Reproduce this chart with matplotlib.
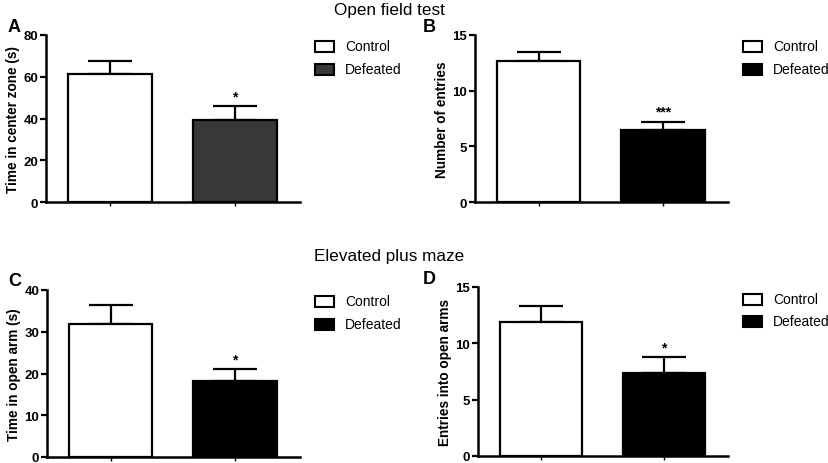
import numpy as np
import matplotlib.pyplot as plt
from matplotlib.patches import Rectangle

plt.rcParams['font.family'] = ['Liberation Sans', 'DejaVu Sans']

groups = ["Control", "Defeated"]

# panel A: time in center zone (s)
center_time = [61.5, 39.5]
center_time_sem = [6.2, 6.3]
# panel B: number of entries
entries = [12.7, 6.45]
entries_sem = [0.8, 0.75]
# panel C: time in open arm (s)
open_arm_time = [31.8, 18.2]
open_arm_time_sem = [4.6, 2.8]
# panel D: entries into open arms
open_arm_entries = [11.85, 7.35]
open_arm_entries_sem = [1.5, 1.4]

W, H = 829, 464

# (letter, values, sem, ylabel, ticks, stars, dark colour, axes rect in px (x0, y_top, x1, y_bottom),
#  letter pos px, legend box x px, legend row y px)
panels = [
    ("A", center_time, center_time_sem, "Time in center zone (s)", [0, 20, 40, 60, 80], "*", "#383838",
     (46, 36, 300, 203), (8, 28), 315, (47, 70)),
    ("B", entries, entries_sem, "Number of entries", [0, 5, 10, 15], "***", "black",
     (475, 36, 728, 203), (423, 28), 743, (47, 70)),
    ("C", open_arm_time, open_arm_time_sem, "Time in open arm (s)", [0, 10, 20, 30, 40], "*", "black",
     (47, 291, 300, 458), (8, 281), 315, (302, 325)),
    ("D", open_arm_entries, open_arm_entries_sem, "Entries into open arms", [0, 5, 10, 15], "*", "black",
     (478, 288, 728, 457), (423, 280), 743, (300, 322)),
]

fig = plt.figure(figsize=(W / 100, H / 100), dpi=100)

for letter, vals, sems, ylabel, yticks, stars, dark, box, lpos, legx, legy in panels:
    x0, yt, x1, yb = box
    ax = fig.add_axes([x0 / W, 1 - yb / H, (x1 - x0) / W, (yb - yt) / H])
    x = np.arange(len(vals))
    colors = ["white", dark]
    ax.bar(x, vals, width=0.67, color=colors, edgecolor="black", linewidth=1.6, zorder=3)
    ax.errorbar(x, vals, yerr=[np.zeros(len(sems)), sems], fmt="none", ecolor="black",
                elinewidth=1.6, capsize=15.5, capthick=1.6, zorder=2)
    ax.text(x[1], vals[1] + sems[1] + yticks[-1] * 0.02, stars, ha="center", va="bottom",
            fontsize=10, fontweight="bold")
    ax.set_xlim(-0.51, 1.52)
    ax.set_ylim(0, yticks[-1])
    ax.set_yticks(yticks)
    ax.set_xticks(x)
    ax.set_xticklabels([])
    ax.tick_params(axis="x", length=3, width=1)
    ax.tick_params(axis="y", length=4, width=1.6, labelsize=9.5, pad=1.5)
    for lab in ax.get_yticklabels():
        lab.set_fontweight("bold")
    for s in ["top", "right"]:
        ax.spines[s].set_visible(False)
    for s in ["left", "bottom"]:
        ax.spines[s].set_linewidth(1.8)
    ax.set_ylabel(ylabel, fontsize=9.8, fontweight="bold", labelpad=2.5)

    # legend drawn by hand in figure pixels
    for c, g, yy in zip(colors, groups, legy):
        fig.patches.append(Rectangle(((legx) / W, 1 - (yy + 5.5) / H), 19 / W, 11 / H,
                                     facecolor=c, edgecolor="black", linewidth=1.5,
                                     transform=fig.transFigure))
        fig.text((legx + 30) / W, 1 - yy / H, g, fontsize=10, va="center", ha="left")

    fig.text(lpos[0] / W, 1 - lpos[1] / H, letter, fontsize=13, fontweight="bold", va="center")

fig.text(389 / W, 1 - 10 / H, "Open field test", ha="center", va="center", fontsize=12.3)
fig.text(389 / W, 1 - 256 / H, "Elevated plus maze", ha="center", va="center", fontsize=12.3)

fig.savefig("out.png", dpi=100)
